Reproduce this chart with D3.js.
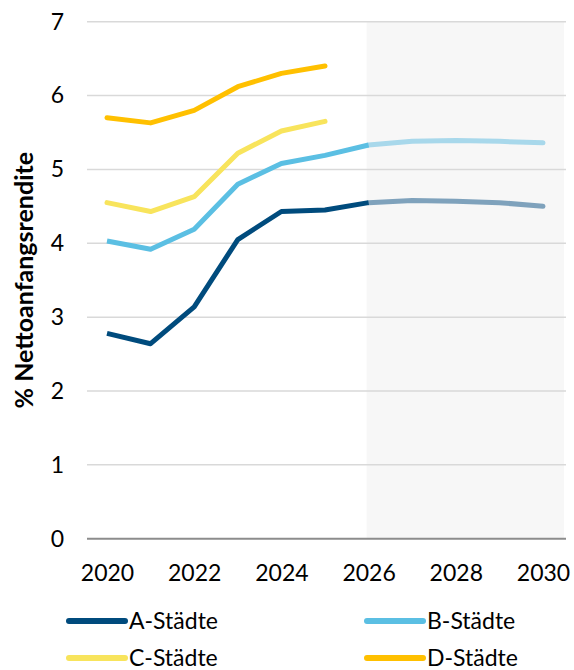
<!DOCTYPE html>
<html>
<head>
<meta charset="utf-8">
<script src="https://cdn.jsdelivr.net/npm/d3@7"></script>
<style>
  html, body { margin: 0; padding: 0; background: #fff; }
  svg { display: block; font-family: Lato, "Open Sans", sans-serif; }
</style>
</head>
<body>
<svg id="chart" width="574" height="670"></svg>
<script>
// Years on the x axis
const years = [2020, 2021, 2022, 2023, 2024, 2025, 2026, 2027, 2028, 2029, 2030];
const firstForecastYear = 2026;

// Net initial yield (%) per city class; null where no value exists
const aStaedte = [2.78, 2.64, 3.14, 4.05, 4.43, 4.45, 4.55, 4.58, 4.57, 4.55, 4.50];
const bStaedte = [4.03, 3.92, 4.19, 4.80, 5.08, 5.19, 5.33, 5.38, 5.39, 5.38, 5.36];
const cStaedte = [4.55, 4.43, 4.63, 5.22, 5.52, 5.65, null, null, null, null, null];
const dStaedte = [5.70, 5.63, 5.80, 6.12, 6.30, 6.40, null, null, null, null, null];

const seriesNames = ["A-Städte", "B-Städte", "C-Städte", "D-Städte"];
const seriesColors = ["#004b7d", "#5bbfe3", "#f8e45c", "#ffc000"];
const forecastColors = ["#7fa2bc", "#a8d8eb", "#fbefa0", "#ffdd80"];

const yTicks = [0, 1, 2, 3, 4, 5, 6, 7];
const xTicks = [2020, 2022, 2024, 2026, 2028, 2030];
const yTitle = "% Nettoanfangsrendite";

const series = [aStaedte, bStaedte, cStaedte, dStaedte].map((vals, i) => ({
  name: seriesNames[i],
  color: seriesColors[i],
  forecastColor: forecastColors[i],
  points: years.map((y, j) => ({ year: y, value: vals[j] })).filter(d => d.value !== null)
}));

const svg = d3.select("#chart");

const plotLeft = 87, plotRight = 566, plotTop = 21.7, plotBottom = 538.7;
const labelSize = 23;

const x = d3.scaleLinear().domain([2020, 2030]).range([107, 543]);
const y = d3.scaleLinear().domain([0, 7]).range([plotBottom, plotTop]);

// Forecast shading
svg.append("rect")
  .attr("x", x(firstForecastYear) - 2)
  .attr("y", plotTop)
  .attr("width", 564 - x(firstForecastYear) + 2)
  .attr("height", plotBottom - plotTop)
  .attr("fill", "#f7f7f7");

// Horizontal gridlines
svg.append("g")
  .selectAll("line")
  .data(yTicks.filter(t => t > 0))
  .join("line")
  .attr("x1", plotLeft).attr("x2", plotRight)
  .attr("y1", d => y(d)).attr("y2", d => y(d))
  .attr("stroke", "#d9d9d9")
  .attr("stroke-width", 1.5);

// Y axis (labels only)
const yAxis = svg.append("g")
  .attr("transform", `translate(${plotLeft - 23},0)`)
  .call(d3.axisLeft(y).tickValues(yTicks).tickSize(0).tickPadding(0).tickFormat(d3.format("d")));
yAxis.select(".domain").remove();
yAxis.selectAll("text")
  .attr("font-family", "Lato, sans-serif")
  .attr("font-size", labelSize)
  .attr("fill", "#000");

// Baseline
svg.append("line")
  .attr("x1", plotLeft).attr("x2", plotRight)
  .attr("y1", y(0)).attr("y2", y(0))
  .attr("stroke", "#8c8c8c")
  .attr("stroke-width", 2);

// X axis (labels only)
const xAxis = svg.append("g")
  .attr("transform", `translate(0,${plotBottom + 26})`)
  .call(d3.axisBottom(x).tickValues(xTicks).tickSize(0).tickPadding(0).tickFormat(d3.format("d")));
xAxis.select(".domain").remove();
xAxis.selectAll("text")
  .attr("font-family", "Lato, sans-serif")
  .attr("font-size", labelSize)
  .attr("fill", "#000")
  .attr("dy", "0.71em");

// Y title
svg.append("text")
  .attr("transform", `translate(33,${(plotTop + plotBottom) / 2}) rotate(-90)`)
  .attr("text-anchor", "middle")
  .attr("font-family", "Lato, sans-serif")
  .attr("font-weight", "bold")
  .attr("font-size", 25)
  .attr("fill", "#000")
  .text(yTitle);

// Lines: observed part in full colour, forecast part in a lighter tint
const line = d3.line().x(d => x(d.year)).y(d => y(d.value));
const lines = svg.append("g")
  .attr("fill", "none")
  .attr("stroke-width", 5)
  .attr("stroke-linecap", "round")
  .attr("stroke-linejoin", "round");

series.forEach(s => {
  const hist = s.points.filter(d => d.year <= firstForecastYear);
  const fc = s.points.filter(d => d.year >= firstForecastYear);
  if (fc.length > 1) {
    lines.append("path").datum(fc).attr("d", line).attr("stroke", s.forecastColor);
  }
  lines.append("path").datum(hist).attr("d", line).attr("stroke", s.color)
    .attr("stroke-linecap", fc.length > 1 ? "butt" : "round");
});

// Legend
const legendPos = [[69, 621], [367, 621], [69, 658], [367, 658]];
const legend = svg.append("g");
series.forEach((s, i) => {
  const [lx, ly] = legendPos[i];
  legend.append("line")
    .attr("x1", lx).attr("x2", lx + 56)
    .attr("y1", ly).attr("y2", ly)
    .attr("stroke", s.color)
    .attr("stroke-width", 6)
    .attr("stroke-linecap", "round");
  legend.append("text")
    .attr("x", lx + 60).attr("y", ly)
    .attr("dy", "0.36em")
    .attr("font-family", "Lato, sans-serif")
    .attr("font-size", labelSize)
    .attr("fill", "#000")
    .text(s.name);
});
</script>
</body>
</html>
